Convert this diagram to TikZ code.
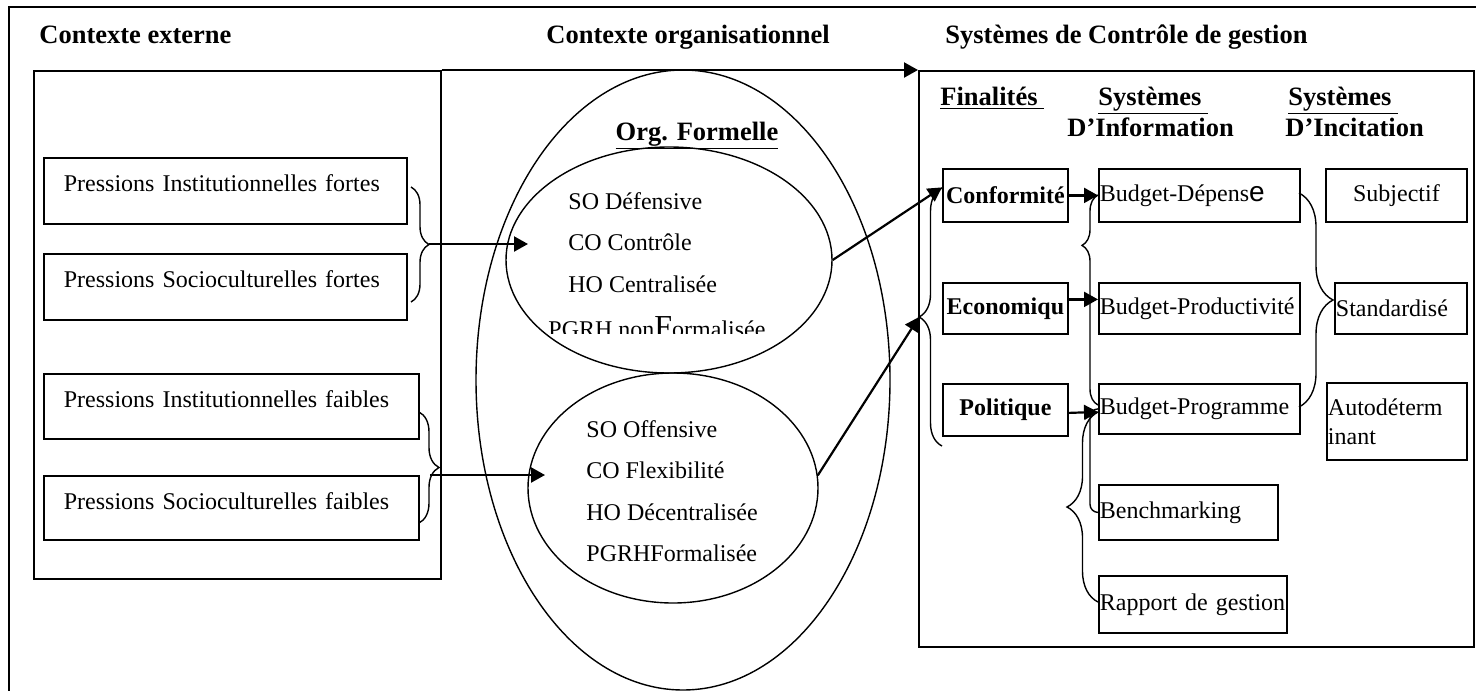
\documentclass[tikz,border=0pt]{standalone}
\usepackage{fontspec}
\setmainfont{Liberation Serif}
\setsansfont{Liberation Sans}
\usepackage{tikz}
\usetikzlibrary{shapes, arrows.meta, decorations.pathreplacing}
\tikzstyle{bigbox} = [draw, rectangle, anchor=north west, inner sep=0pt, line width=0.8pt]
\tikzstyle{pbox} = [draw, rectangle, anchor=north west, inner xsep=10pt, inner ysep=0pt, text height=17pt, text depth=16pt, align=left, line width=0.9pt, font=\fontsize{12}{14}\selectfont]
\tikzstyle{fbox} = [draw, rectangle, anchor=north west, minimum width=62.5pt, inner sep=0pt, line width=0.9pt, font=\fontsize{12}{14}\selectfont\bfseries]
\tikzstyle{ibox} = [draw, rectangle, anchor=north west, inner xsep=0.5pt, inner ysep=0pt, align=left, line width=0.9pt, font=\fontsize{12}{14.5}\selectfont]
\tikzstyle{oval} = [draw, ellipse, inner sep=0pt, line width=0.7pt]
\tikzstyle{head} = [anchor=base west, inner sep=0pt, font=\fontsize{13.25}{16}\selectfont\bfseries]
\tikzstyle{orgitem} = [anchor=base west, inner sep=0pt, font=\fontsize{12}{14}\selectfont]
\tikzstyle{curly} = [draw, decorate, decoration={brace}, line width=0.7pt]
\tikzstyle{arrow} = [draw, line width=1.1pt, -{Triangle[length=7pt, width=7.5pt]}]
\tikzstyle{line} = [draw, line width=0.7pt]

\begin{document}
\begin{tikzpicture}[x=0.5pt, y=-0.5pt]
  \useasboundingbox (0,0) rectangle (1476,691);
  \path [line] (1476,7) -- (9,7) -- (9,691);

  % titres
  \node [head] (h1) at (39,43) {Contexte externe};
  \node [head] (h2) at (546,43) {Contexte organisationnel};
  \node [head] (h3) at (945,43) {Systèmes de Contrôle de gestion};

  % contexte externe
  \node [bigbox, minimum width=203.5pt, minimum height=254pt] (ext) at (33,70) {};
  \node [pbox, text width=161.5pt] (pif) at (43,157) {Pressions Institutionnelles fortes};
  \node [pbox, text width=161.5pt] (psf) at (43,253) {Pressions Socioculturelles fortes};
  \node [pbox, text width=167.5pt, text depth=15.5pt] (pifa) at (43,373) {Pressions Institutionnelles faibles};
  \node [pbox, text width=167.5pt, text depth=15pt] (psfa) at (43,475) {Pressions Socioculturelles faibles};

  \path [curly, decoration={amplitude=9pt}] (411,187) -- (411,302);
  \path [curly, decoration={amplitude=10pt}] (419,412) -- (419,523);
  \coordinate (tf) at (429,244);
  \coordinate (tw) at (430,475);

  % contexte organisationnel
  \node [oval, minimum width=207pt, minimum height=310pt] (org) at (683,380) {};
  \node [oval, minimum width=163pt, minimum height=113pt] (of1) at (669,260) {};
  \node [oval, minimum width=145pt, minimum height=115pt] (of2) at (673,488) {};
  \coordinate (ef) at (528,244);
  \coordinate (ew) at (545,475);

  \node [head, anchor=base] (orgt) at (697,140) {\underline{Org. Formelle}};
  \node [orgitem] (so1) at (568,209) {SO Défensive};
  \node [orgitem] (co1) at (568,250) {CO Contrôle};
  \node [orgitem] (ho1) at (568,292) {HO Centralisée};
  \begin{scope}
    \clip (540,300) rectangle (850,333);
    \node [orgitem] (pg1) at (548,337) {PGRH non{\fontsize{16}{18}\selectfont F}ormalisée};
  \end{scope}
  \node [orgitem] (so2) at (586,437) {SO Offensive};
  \node [orgitem] (co2) at (586,478) {CO Flexibilité};
  \node [orgitem] (ho2) at (586,520) {HO Décentralisée};
  \node [orgitem] (pg2) at (586,561) {PGRHFormalisée};

  % systemes de controle de gestion
  \node [bigbox, minimum width=277.5pt, minimum height=288pt] (scg) at (918,70) {};
  \node [head] (fin) at (940,105) {\underline{Finalités\ }};
  \node [head] (si1) at (1098,105) {\underline{Systèmes\ }};
  \node [head] (si2) at (1067,136) {D’Information};
  \node [head] (sc1) at (1288,105) {\underline{Systèmes\ }};
  \node [head] (sc2) at (1285,136) {D’Incitation};

  \node [fbox, minimum height=26.5pt] (conf) at (942,168) {Conformité};
  \node [fbox, minimum height=25.5pt] (eco) at (942,282) {Economiqu};
  \node [fbox, minimum height=26pt] (pol) at (942,383) {Politique};

  \node [ibox, text width=99.5pt, minimum height=26.5pt] (bdep) at (1098,168) {Budget-Dépens{\sffamily\fontsize{14}{16}\selectfont e}};
  \node [ibox, text width=99.5pt, minimum height=25.5pt] (bprod) at (1098,282) {Budget-Productivité};
  \node [ibox, text width=99.5pt, minimum height=25pt] (bprog) at (1098,383) {Budget-Programme};
  \node [ibox, text width=88.5pt, minimum height=27.5pt] (bench) at (1098,484) {Benchmarking};
  \node [ibox, text width=93pt, minimum height=28.5pt] (rapp) at (1098,575) {\mbox{Rapport de gestion}};

  \node [ibox, text width=69.5pt, minimum height=26.5pt, align=center] (subj) at (1325,168) {Subjectif};
  \node [ibox, text width=65pt, minimum height=25.5pt] (stand) at (1334,282) {Standardisé};
  \node [ibox, text width=69pt, minimum height=38.5pt] (auto) at (1326,382) {Autodéterm\\inant};

  \path [curly, decoration={amplitude=11.5pt}] (942,446) -- (942,188);
  \path [curly, decoration={amplitude=8pt, aspect=0.76}] (1098,405) -- (1098,195);
  \path [curly, decoration={amplitude=15.5pt}] (1098,602) -- (1098,412);
  \path [line, rounded corners=4pt] (bprog.west) -- ++(-8,0) |- (bench.west);
  \path [curly, decoration={amplitude=17pt}] (1299,193) -- (1299,407);
  \coordinate (tfin) at (919,317);

  % fleches
  \path [arrow] (ext.north east) -- (scg.north west);
  \path [arrow] (tf) -- (ef);
  \path [arrow] (tw) -- (ew);
  \path [arrow] (of1.east) -- ([yshift=4pt]conf.west);
  \path [arrow] (of2.5) -- (tfin);
  \path [arrow] (conf.east) -- (bdep.west);
  \path [arrow] ([yshift=4.5pt]eco.east) -- ([yshift=4.5pt]bprod.west);
  \path [arrow] ([yshift=-1.5pt]pol.east) -- ([yshift=-1.5pt]bprog.west);
\end{tikzpicture}
\end{document}
